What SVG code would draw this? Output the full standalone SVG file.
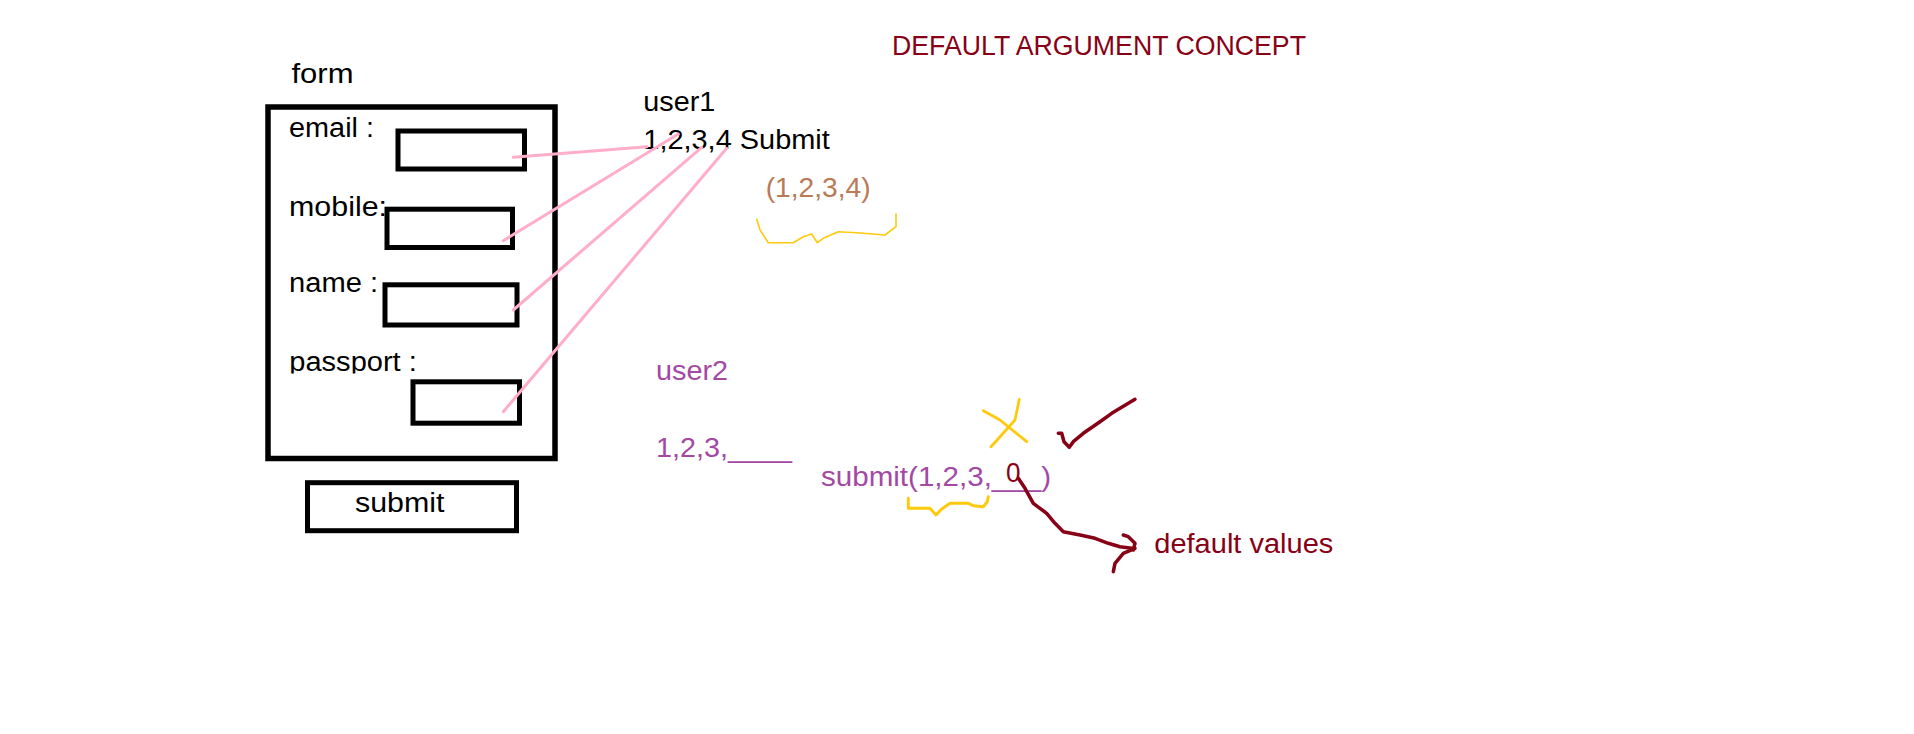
<svg xmlns="http://www.w3.org/2000/svg" width="1914" height="734" viewBox="0 0 1914 734">
  <defs>
    <style>
      text { font-family: "Liberation Sans", Arial, sans-serif; font-size: 27px; }
      .blk { fill: #000000; }
      .red { fill: #880015; }
      .pur { fill: #A349A4; }
      .brn { fill: #B97A57; }
      .box { fill: none; stroke: #000000; stroke-width: 5; }
      .frame { fill: none; stroke: #000000; stroke-width: 5.5; }
      .pink { fill: none; stroke: #FFAEC9; stroke-width: 3; stroke-linecap: round; }
      .gold { fill: none; stroke: #FFC90E; stroke-linecap: round; stroke-linejoin: round; }
      .ink { fill: none; stroke: #880015; stroke-width: 3.5; stroke-linecap: round; stroke-linejoin: round; }
    </style>
    <clipPath id="clipPassport">
      <rect x="280" y="340" width="150" height="33.5"/>
    </clipPath>
  </defs>
  <rect width="1914" height="734" fill="#ffffff"/>

  <g id="title">
    <text class="red" x="892" y="55" textLength="414" lengthAdjust="spacingAndGlyphs">DEFAULT ARGUMENT CONCEPT</text>
  </g>

  <g id="form">
    <text class="blk" x="291.5" y="82.7" textLength="62" lengthAdjust="spacingAndGlyphs">form</text>
    <rect class="frame" x="268" y="107" width="287" height="351.5"/>
  </g>

  <g id="email">
    <text class="blk" x="289" y="137.3" textLength="85" lengthAdjust="spacingAndGlyphs">email :</text>
    <rect class="box" x="398" y="131" width="126.5" height="38"/>
  </g>

  <g id="mobile">
    <text class="blk" x="289" y="215.7" textLength="98" lengthAdjust="spacingAndGlyphs">mobile:</text>
    <rect class="box" x="387" y="209.2" width="125.5" height="38.3"/>
  </g>

  <g id="name">
    <text class="blk" x="289" y="292.3" textLength="89" lengthAdjust="spacingAndGlyphs">name :</text>
    <rect class="box" x="385" y="284.8" width="132" height="40.2"/>
  </g>

  <g id="passport">
    <text class="blk" x="289.3" y="370.7" textLength="127.5" lengthAdjust="spacingAndGlyphs" clip-path="url(#clipPassport)">passport :</text>
    <rect class="box" x="413" y="381.8" width="106.5" height="41.4"/>
  </g>

  <g id="submit-button">
    <rect class="box" x="307.5" y="482.7" width="209" height="48"/>
    <text class="blk" x="355" y="511.7" textLength="89.5" lengthAdjust="spacingAndGlyphs">submit</text>
  </g>

  <g id="user1">
    <text class="blk" x="643.3" y="110.7" textLength="72" lengthAdjust="spacingAndGlyphs">user1</text>
    <text class="blk" x="643.3" y="149.3" textLength="186.5" lengthAdjust="spacingAndGlyphs">1,2,3,4 Submit</text>
  </g>

  <g id="args1">
    <text class="brn" x="765.7" y="196.7" textLength="105" lengthAdjust="spacingAndGlyphs">(1,2,3,4)</text>
    <polyline class="gold" stroke-width="1.6" points="756.7,219.3 760,230 768.3,242.7 793.3,242.7 803.3,236.7 811.7,234 817.3,242.7 823.3,238.3 838.3,231.7 856.7,232.7 885,235 896,226.7 896,214"/>
  </g>

  <g id="user2">
    <text class="pur" x="656" y="380" textLength="72" lengthAdjust="spacingAndGlyphs">user2</text>
    <text class="pur" x="656" y="457.3" textLength="136" lengthAdjust="spacingAndGlyphs">1,2,3,____</text>
  </g>

  <g id="submit-call">
    <text class="pur" x="821" y="485.7" textLength="230" lengthAdjust="spacingAndGlyphs">submit(1,2,3,___)</text>
    <text class="red" x="1006" y="481.7" font-size="24" textLength="14.5" lengthAdjust="spacingAndGlyphs">0</text>
    <polyline class="gold" stroke-width="3" points="908.3,498.3 908.3,508.3 930,508.3 936,515 941.7,509 950,503.3 968.3,503.3 973.3,505.7 983.3,506.7 987.3,501.7 988.3,496.7"/>
  </g>

  <g id="cross">
    <polyline class="gold" stroke-width="2.8" points="983.3,410.7 1000,420 1026.7,441.7"/>
    <polyline class="gold" stroke-width="2.8" points="1019.3,399.3 1015,420 991,446.7"/>
  </g>

  <g id="tick">
    <polyline class="ink" points="1058.3,433.3 1061.7,433.3 1064,441.7 1069.3,447.3 1073.3,441.7 1083.3,433.3 1100,421.7 1111.7,413.3 1135,399.3"/>
  </g>

  <g id="default-values">
    <text class="red" x="1154.3" y="552.7" textLength="179" lengthAdjust="spacingAndGlyphs">default values</text>
  </g>

  <g id="connectors">
    <line class="pink" x1="513.3" y1="157.3" x2="647" y2="146.7"/>
    <line class="pink" x1="503.3" y1="240.7" x2="678.3" y2="134"/>
    <line class="pink" x1="513.3" y1="310" x2="701.7" y2="147.3"/>
    <line class="pink" x1="503.3" y1="411.7" x2="726.7" y2="148.3"/>
    <polyline class="ink" points="1018.3,478.3 1025,488.3 1033.3,503.3 1040,508.3 1046.7,513.3 1055,523.3 1063.3,531.7 1080,535 1095,538.3 1108.3,543.3 1120,546.7 1131.7,548.3"/>
    <polyline class="ink" points="1123.3,535 1128.3,536.7 1135,543.3 1133.3,550"/>
    <polyline class="ink" points="1113.3,571.7 1115,563.3 1123.3,553.3 1135,548.3"/>
  </g>
</svg>
